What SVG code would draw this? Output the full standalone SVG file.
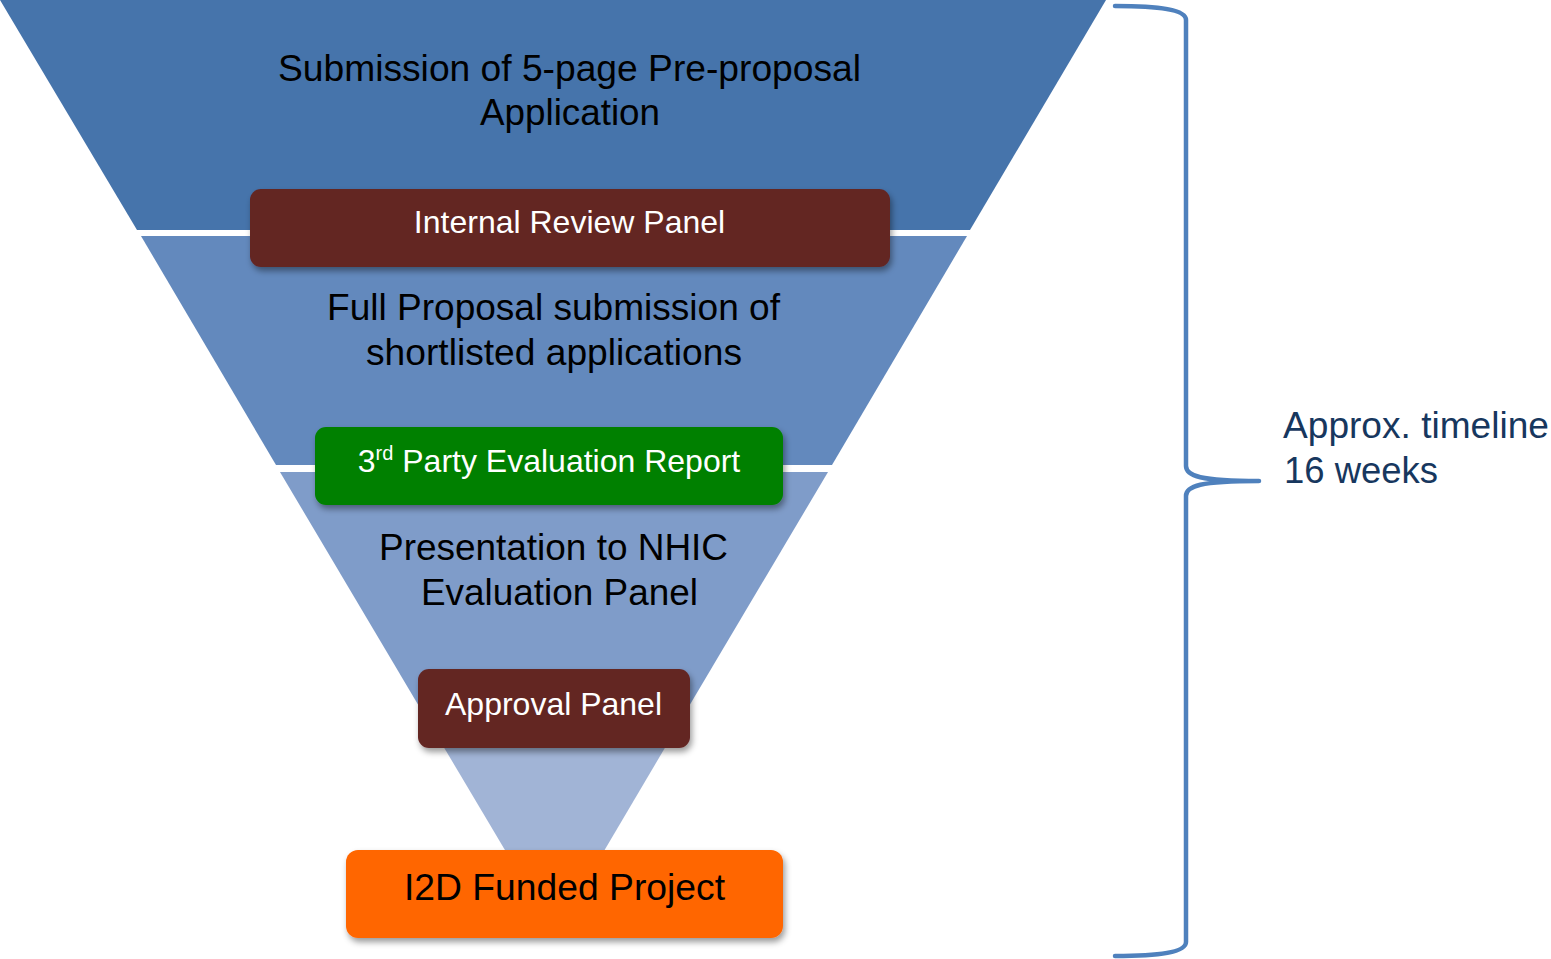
<svg xmlns="http://www.w3.org/2000/svg" width="1551" height="959" viewBox="0 0 1551 959">
<style>
.t{font-family:"Liberation Sans",Arial,sans-serif;text-anchor:middle}
.dark{fill:#000;font-size:36px}
.wh{fill:#fff;font-size:32px}
.tl{font-family:"Liberation Sans",Arial,sans-serif;font-size:36px;fill:#17375E}
</style>
<defs>
<filter id="sh" x="-10%" y="-20%" width="120%" height="150%">
<feDropShadow dx="2" dy="4" stdDeviation="3" flood-color="#000" flood-opacity="0.4"/>
</filter>
</defs>
<rect width="1551" height="959" fill="#fff"/>
<g id="funnel">
<polygon points="0,0 1106,0 970,230 137,230" fill="#4674AB"/>
<polygon points="141,236 967,236 832,465 276,465" fill="#6389BD"/>
<polygon points="280,472 828,472 682,718 426,718" fill="#7F9CC9"/>
<polygon points="430,724 679,724 555,934" fill="#A1B4D6"/>
</g>
<g id="stage1">
<text class="t dark" x="569.5" y="81" textLength="583" lengthAdjust="spacingAndGlyphs">Submission of 5-page Pre-proposal</text>
<text class="t dark" x="570" y="125" textLength="180" lengthAdjust="spacingAndGlyphs">Application</text>
</g>
<g id="stage2">
<text class="t dark" x="553.5" y="320" textLength="453" lengthAdjust="spacingAndGlyphs">Full Proposal submission of</text>
<text class="t dark" x="554" y="365" textLength="376" lengthAdjust="spacingAndGlyphs">shortlisted applications</text>
</g>
<g id="stage3">
<text class="t dark" x="553.5" y="560" textLength="349" lengthAdjust="spacingAndGlyphs">Presentation to NHIC</text>
<text class="t dark" x="559.5" y="605" textLength="277" lengthAdjust="spacingAndGlyphs">Evaluation Panel</text>
</g>
<g id="internal-review">
<rect x="250" y="189" width="640" height="78" rx="11" fill="#632523" filter="url(#sh)"/>
<text class="t wh" x="569.5" y="233">Internal Review Panel</text>
</g>
<g id="third-party">
<rect x="315" y="427" width="468" height="78" rx="11" fill="#008000" filter="url(#sh)"/>
<text class="t wh" x="549" y="472">3<tspan font-size="20" dy="-12">rd</tspan><tspan dy="12"> Party Evaluation Report</tspan></text>
</g>
<g id="approval">
<rect x="418" y="669" width="272" height="79" rx="11" fill="#632523" filter="url(#sh)"/>
<text class="t wh" x="553.5" y="715">Approval Panel</text>
</g>
<g id="funded">
<rect x="346" y="850" width="437" height="88" rx="12" fill="#FF6600" filter="url(#sh)"/>
<text class="t dark" x="564.5" y="900" textLength="321" lengthAdjust="spacingAndGlyphs">I2D Funded Project</text>
</g>
<g id="connectors">
<path d="M1115,6 C1160,6 1186,10 1186,20 L1186,466 C1186,476 1200,481 1259,481 C1200,481 1186,486 1186,496 L1186,942 C1186,952 1160,956 1115,956" fill="none" stroke="#4F81BD" stroke-width="4.5" stroke-linecap="round" stroke-linejoin="round"/>
</g>
<g id="timeline">
<text class="tl" x="1283" y="438" textLength="266" lengthAdjust="spacingAndGlyphs">Approx. timeline</text>
<text class="tl" x="1284" y="483" textLength="154" lengthAdjust="spacingAndGlyphs">16 weeks</text>
</g>
</svg>
